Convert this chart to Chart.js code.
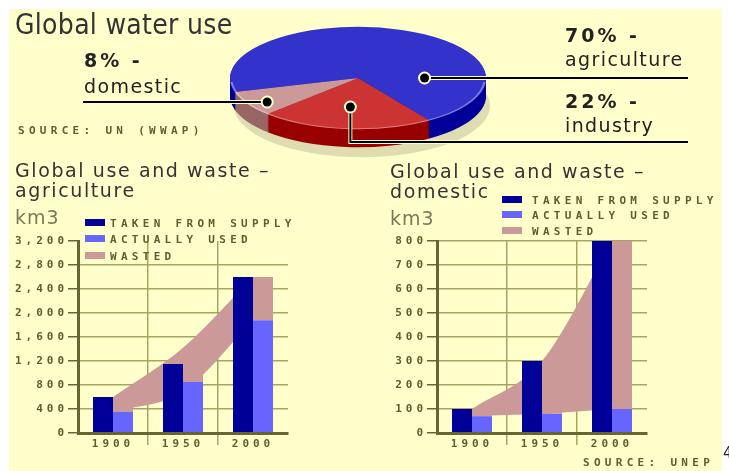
<!DOCTYPE html>
<html>
<head>
<meta charset="utf-8">
<script src="https://cdn.jsdelivr.net/npm/chart.js@4.4.1/dist/chart.umd.min.js"></script>
<style>
  body { margin: 0; width: 729px; height: 471px; overflow: hidden; position: relative; background: #fff; font-family: "DejaVu Sans", sans-serif; }
  #panel { position: absolute; left: 9px; top: 9px; width: 713px; height: 462px; background: #ffffcc; }
  canvas { position: absolute; }
  .t { position: absolute; white-space: nowrap; line-height: 1; color: #333; }
  .title { font-family: "DejaVu Sans Condensed", "DejaVu Sans", sans-serif; font-stretch: condensed; font-size: 28px; letter-spacing: 0.3px; }
  .sub { font-size: 19px; letter-spacing: 1.6px; line-height: 20px; }
  .unit { font-size: 19px; letter-spacing: 1px; color: #7a7a58; }
  .pct { font-size: 19px; font-weight: bold; letter-spacing: 3px; color: #222; }
  .lab { font-size: 19px; letter-spacing: 1.4px; color: #222; }
  .pix { font: bold 11px "DejaVu Sans Mono", monospace; letter-spacing: 4.3px; color: #5e5e2c; }
  .box { position: absolute; width: 20px; height: 7px; }
</style>
</head>
<body>
<div id="panel"></div>
<canvas id="pie" width="630" height="256" style="left:70px;top:8px"></canvas>
<canvas id="agri" width="290" height="230" style="left:10px;top:230px"></canvas>
<canvas id="dom" width="300" height="230" style="left:370px;top:230px"></canvas>

<div class="t title" style="left:15px;top:11px">Global water use</div>
<div class="t pct" style="left:84px;top:51px">8% -</div>
<div class="t lab" style="left:84px;top:77px">domestic</div>
<div class="t pct" style="left:565px;top:26px">70% -</div>
<div class="t lab" style="left:565px;top:50px">agriculture</div>
<div class="t pct" style="left:565px;top:92px">22% -</div>
<div class="t lab" style="left:565px;top:116px">industry</div>
<div class="t pix" style="left:18px;top:124px">SOURCE: UN (WWAP)</div>

<div class="t sub" style="left:15px;top:160px">Global use and waste –<br>agriculture</div>
<div class="t unit" style="left:15px;top:208px">km3</div>
<div class="t sub" style="left:390px;top:161px">Global use and waste –<br>domestic</div>
<div class="t unit" style="left:390px;top:209px">km3</div>
<div class="t pix" style="left:583px;top:456px">SOURCE: UNEP</div>
<div class="t" style="left:723px;top:446px;font-size:15px;color:#222">4</div>

<script>
// pie: share of global water use (%)
const shareLabels = ['agriculture', 'industry', 'domestic'];
const shareValues = [70, 22, 8];

// bar charts (km3)
const years = ['1900', '1950', '2000'];
const seriesNames = ['TAKEN FROM SUPPLY', 'ACTUALLY USED', 'WASTED'];
const agriTaken = [600, 1150, 2600];
const agriUsed = [350, 850, 1880];
const agriWasted = [250, 300, 720];
const domTaken = [100, 300, 1050];
const domUsed = [70, 80, 100];
const domWasted = [30, 220, 950];

// edges of the shaded "wasted" band behind the bars
const agriBandTop = [600, 1420, 2600];
const agriBandLow = [350, 690, 1880];
const domBandTop = [100, 300, 800];
const domBandLow = [70, 80, 100];

const seriesColors = ['#000099', '#6666ff', '#cc9999'];
const olive = '#5e5e2c';
const axisColor = '#666633';
const gridColor = '#a8a462';
const pixFont = { family: 'DejaVu Sans Mono', size: 11, weight: 'bold' };

Chart.defaults.animation = false;

// squashes the pie into a tilted disc and adds the side + shadow
const pie3d = {
  id: 'pie3d',
  beforeDatasetsDraw(chart, args, o) {
    const ctx = chart.ctx;
    const arcs = chart.getDatasetMeta(0).data;
    const c = arcs[0];
    ctx.save();
    ctx.translate(c.x, o.centerY);
    ctx.scale(1, o.tilt);
    ctx.translate(-c.x, -c.y);
    ctx.fillStyle = o.shadowColor;
    ctx.beginPath();
    ctx.arc(c.x + o.shadowX, c.y + (o.depth + o.shadowY) / o.tilt, c.outerRadius, 0, Math.PI * 2);
    ctx.fill();
    for (let d = o.depth; d > 0; d--) {
      arcs.forEach((a, i) => {
        const y = a.y + d / o.tilt;
        ctx.fillStyle = o.sideColors[i];
        ctx.beginPath();
        ctx.moveTo(a.x, y);
        ctx.arc(a.x, y, a.outerRadius, a.startAngle, a.endAngle);
        ctx.closePath();
        ctx.fill();
      });
    }
  },
  afterDatasetsDraw(chart, args, o) {
    const ctx = chart.ctx;
    const c = chart.getDatasetMeta(0).data[0];
    ctx.strokeStyle = o.rimColor;
    ctx.lineWidth = 2.5;
    ctx.beginPath();
    ctx.arc(c.x, c.y, c.outerRadius - 1, 0.08, Math.PI - 0.08);
    ctx.stroke();
    ctx.restore();

    o.leaders.forEach(l => {
      const a = l.angle * Math.PI / 180;
      const x = c.x + Math.cos(a) * l.r * c.outerRadius;
      const y = o.centerY + Math.sin(a) * l.r * c.outerRadius * o.tilt;
      const pts = [[x, y]];
      l.path.forEach(p => pts.push([p[0] === null ? x : p[0], p[1] === null ? y : p[1]]));
      [['#ffffcc', 4], ['#000', 2]].forEach(s => {
        ctx.strokeStyle = s[0];
        ctx.lineWidth = s[1];
        ctx.beginPath();
        pts.forEach((p, i) => i ? ctx.lineTo(p[0], p[1]) : ctx.moveTo(p[0], p[1]));
        ctx.stroke();
      });
      ctx.fillStyle = '#ffffcc';
      ctx.beginPath(); ctx.arc(x, y, 6.5, 0, Math.PI * 2); ctx.fill();
      ctx.fillStyle = '#000';
      ctx.beginPath(); ctx.arc(x, y, 4.5, 0, Math.PI * 2); ctx.fill();
    });
  }
};

new Chart(document.getElementById('pie'), {
  type: 'pie',
  data: {
    labels: shareLabels,
    datasets: [{
      data: shareValues,
      backgroundColor: ['#3333cc', '#cc3333', '#cc9999'],
      borderWidth: 0,
      clip: false
    }]
  },
  options: {
    responsive: false,
    rotation: 254,
    radius: 128,
    layout: { padding: { right: 54 } },
    events: [],
    plugins: {
      legend: { display: false },
      tooltip: { enabled: false },
      pie3d: {
        centerY: 70,
        tilt: 0.4,
        depth: 18,
        shadowX: 4,
        shadowY: 10,
        shadowColor: '#dfdcb2',
        rimColor: 'rgba(255,255,255,0.35)',
        sideColors: ['#000099', '#990000', '#996666'],
        leaders: [
          { angle: 0, r: 0.52, path: [[618, null]] },
          { angle: 96, r: 0.57, path: [[null, 134], [618, 134]] },
          { angle: 146.6, r: 0.85, path: [[13, null]] }
        ]
      }
    }
  },
  plugins: [pie3d]
});

// pixel-font look for the canvas labels
const spacing = { id: 'spacing', beforeDraw(chart) { chart.ctx.letterSpacing = '4px'; } };

function useChart(id, taken, used, wasted, bandTop, bandLow, yMax, yStep, axisWidth, padRight, hideTop) {
  return new Chart(document.getElementById(id), {
    type: 'bar',
    data: {
      labels: years,
      datasets: [
        { label: seriesNames[0], data: taken, backgroundColor: seriesColors[0], stack: 'taken', order: 1 },
        { label: seriesNames[1], data: used, backgroundColor: seriesColors[1], stack: 'used', order: 1 },
        { label: seriesNames[2], data: wasted, backgroundColor: seriesColors[2], stack: 'used', order: 1 },
        { type: 'line', data: bandLow, stack: 'bandLow', borderWidth: 0, borderColor: 'transparent',
          pointRadius: 0, cubicInterpolationMode: 'monotone', fill: false, order: 2 },
        { type: 'line', data: bandTop, stack: 'bandTop', borderWidth: 0, borderColor: 'transparent',
          pointRadius: 0, cubicInterpolationMode: 'monotone', fill: '-1', backgroundColor: seriesColors[2], order: 2 }
      ]
    },
    options: {
      responsive: false,
      events: [],
      categoryPercentage: 40 / 70,
      barPercentage: 1,
      layout: { padding: { top: 11, right: padRight, left: 0, bottom: 0 } },
      plugins: { legend: { display: false }, tooltip: { enabled: false } },
      scales: {
        x: {
          stacked: true,
          ticks: { color: olive, font: pixFont, padding: -7 },
          grid: {
            color: c => (c.type !== 'tick' || c.index === 0) ? 'transparent' : gridColor,
            tickLength: 12, lineWidth: 1.5
          },
          border: { color: axisColor, width: 3, z: 1 },
          afterFit: s => { s.height = 27; }
        },
        y: {
          stacked: true,
          min: 0,
          max: yMax,
          ticks: { stepSize: yStep, color: olive, font: pixFont, padding: 0 },
          grid: {
            color: c => (hideTop && c.tick && c.tick.value === yMax) ? 'transparent' : gridColor,
            tickColor: axisColor, tickLength: 10, lineWidth: 1.5
          },
          border: { color: axisColor, width: 3, z: 1 },
          afterFit: s => { s.width = axisWidth; }
        }
      }
    },
    plugins: [spacing]
  });
}

useChart('agri', agriTaken, agriUsed, agriWasted, agriBandTop, agriBandLow, 3200, 400, 68, 12, true);
useChart('dom', domTaken, domUsed, domWasted, domBandTop, domBandLow, 800, 100, 67, 23, false);

// legends built from the series arrays
function legend(left, textLeft, rows) {
  seriesNames.forEach((name, i) => {
    const b = document.createElement('div');
    b.className = 'box';
    b.style.left = left + 'px';
    b.style.top = (rows[i] - 3.5) + 'px';
    b.style.background = seriesColors[i];
    document.body.appendChild(b);
    const t = document.createElement('div');
    t.className = 't pix';
    t.style.left = textLeft + 'px';
    t.style.top = (rows[i] - 5.3) + 'px';
    t.textContent = name;
    document.body.appendChild(t);
  });
}
legend(85, 110, [222, 238.5, 255]);
legend(502, 532, [199, 214.5, 230]);
</script>
</body>
</html>
